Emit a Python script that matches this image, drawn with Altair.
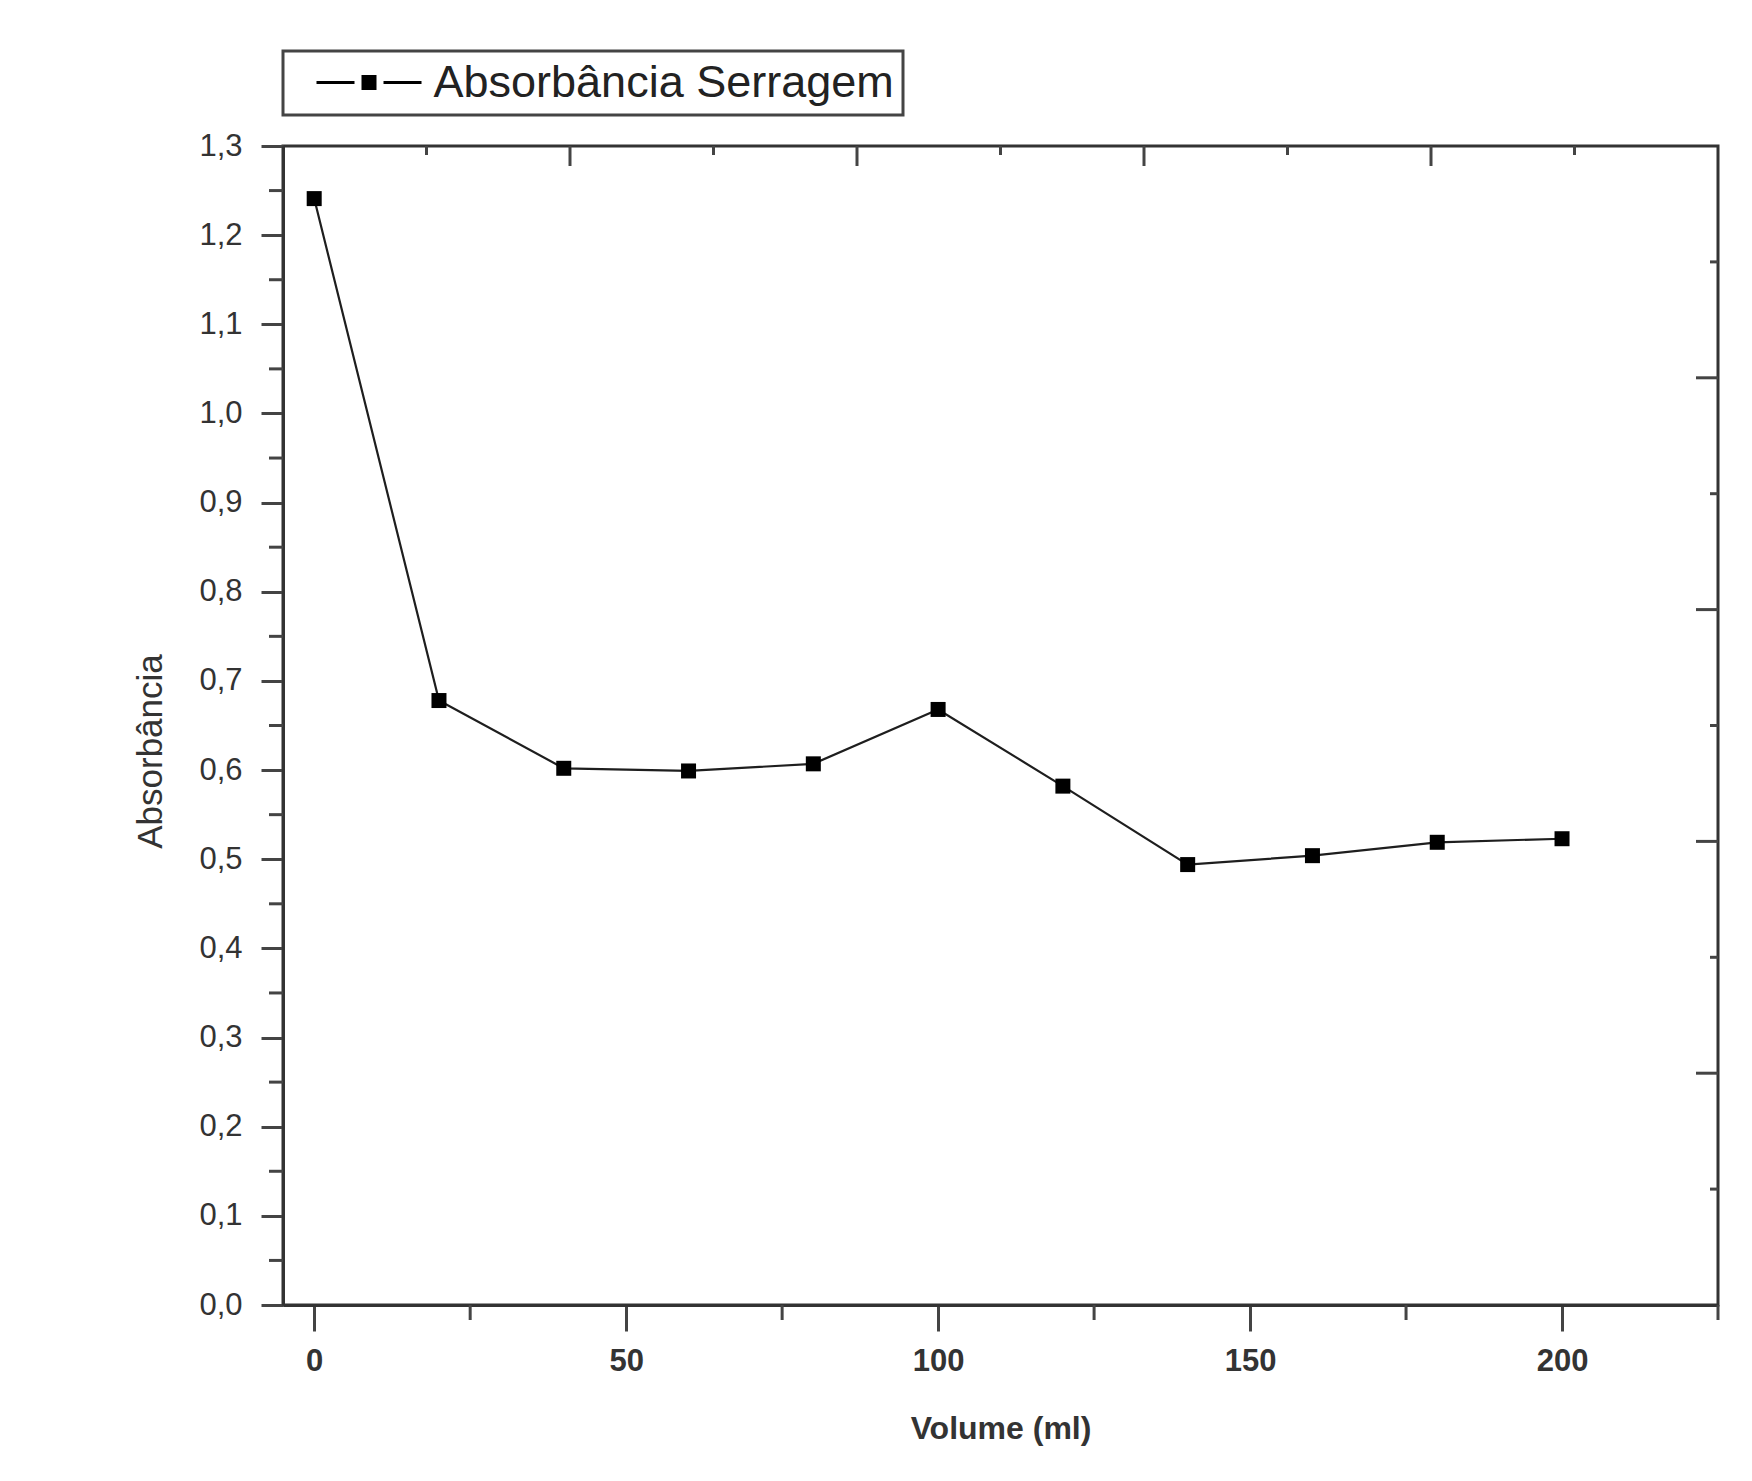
import altair as alt
import pandas as pd

# ---- data ----
volume = [0, 20, 40, 60, 80, 100, 120, 140, 160, 180, 200]
absorbancia = [1.241, 0.678, 0.602, 0.599, 0.607, 0.668, 0.582, 0.494, 0.504, 0.519, 0.523]
serie = "Absorbância Serragem"

x_major = [0, 50, 100, 150, 200]
x_minor = [25, 75, 125, 175, 225]
y_major = [0.0, 0.1, 0.2, 0.3, 0.4, 0.5, 0.6, 0.7, 0.8, 0.9, 1.0, 1.1, 1.2, 1.3]
y_minor = [0.05, 0.15, 0.25, 0.35, 0.45, 0.55, 0.65, 0.75, 0.85, 0.95, 1.05, 1.15, 1.25]
# opposite (unlabelled) axes of the original plot, on their own 0..10 scale
top_major = [2, 4, 6, 8]
top_minor = [1, 3, 5, 7, 9]
right_major = [2, 4, 6, 8]
right_minor = [1, 3, 5, 7, 9]

W, H = 1435, 1159
FONT = "Liberation Sans"
INK = "#333333"

df = pd.DataFrame({"volume": volume, "abs": absorbancia, "serie": [serie] * len(volume)})

xs = alt.Scale(domain=[-5, 225], nice=False, zero=False)
ys = alt.Scale(domain=[0, 1.3], nice=False, zero=False)

x_axis = alt.Axis(
    values=x_major, format="d", title="Volume (ml)", tickSize=26,
    labelFontSize=31, labelFontWeight="bold", labelPadding=15,
    titleFontSize=32, titleFontWeight="bold", titleY=123, titleBaseline="middle",
)
y_axis = alt.Axis(
    values=y_major, title="Absorbância", tickSize=22,
    labelExpr="replace(format(datum.value, '.1f'), '.', ',')",
    labelFontSize=31, labelFontWeight="normal", labelPadding=19,
    titleFontSize=35, titleFontWeight="normal", titleAngle=270,
    titleX=-133, titleY=605, titleAlign="center", titleBaseline="middle",
)

line = alt.Chart(df).mark_line(color="#1e1e1e", strokeWidth=2.2).encode(
    x=alt.X("volume:Q", scale=xs, axis=x_axis),
    y=alt.Y("abs:Q", scale=ys, axis=y_axis),
)

legend_symbol = (
    "M-3.5,-0.1H-0.967V0.1H-3.5Z "
    "M-0.5,-0.5H0.5V0.5H-0.5Z "
    "M0.967,-0.1H3.5V0.1H0.967Z"
)

pts = alt.Chart(df).mark_square(size=225, filled=True, opacity=1).encode(
    x=alt.X("volume:Q", scale=xs),
    y=alt.Y("abs:Q", scale=ys),
    color=alt.Color(
        "serie:N",
        scale=alt.Scale(domain=[serie], range=["#000000"]),
        legend=alt.Legend(
            title=None, orient="none", legendX=0, legendY=-95,
            symbolType=legend_symbol, symbolSize=900, symbolStrokeWidth=0,
            symbolOffset=54.5, labelOffset=42, labelFontSize=45, labelFont=FONT,
            labelColor="#222222", labelLimit=1000, padding=9,
            strokeColor="#444444", fillColor="white",
        ),
    ),
)

x_minor_ticks = alt.Chart(pd.DataFrame({"volume": x_minor})).mark_rule(
    color="#444444", strokeWidth=3
).encode(
    x=alt.X("volume:Q", scale=xs),
    y=alt.value(H), y2=alt.value(H + 15),
)
y_minor_ticks = alt.Chart(pd.DataFrame({"abs": y_minor})).mark_rule(
    color="#444444", strokeWidth=3
).encode(
    y=alt.Y("abs:Q", scale=ys),
    x=alt.value(0), x2=alt.value(-14),
)

main = alt.layer(line, pts, x_minor_ticks, y_minor_ticks)

ts = alt.Scale(domain=[0, 10], nice=False, zero=False)
top_maj = alt.Chart(pd.DataFrame({"t": top_major})).mark_rule(color="#444444", strokeWidth=3).encode(
    x=alt.X("t:Q", scale=ts, axis=None), y=alt.value(0), y2=alt.value(20))
top_min = alt.Chart(pd.DataFrame({"t": top_minor})).mark_rule(color="#444444", strokeWidth=3).encode(
    x=alt.X("t:Q", scale=ts, axis=None), y=alt.value(0), y2=alt.value(9))
top = alt.layer(top_maj, top_min)

rs = alt.Scale(domain=[0, 10], nice=False, zero=False)
right_maj = alt.Chart(pd.DataFrame({"r": right_major})).mark_rule(color="#444444", strokeWidth=3).encode(
    y=alt.Y("r:Q", scale=rs, axis=None), x=alt.value(W), x2=alt.value(W - 22))
right_min = alt.Chart(pd.DataFrame({"r": right_minor})).mark_rule(color="#444444", strokeWidth=3).encode(
    y=alt.Y("r:Q", scale=rs, axis=None), x=alt.value(W), x2=alt.value(W - 8))
right = alt.layer(right_maj, right_min)

chart = (
    alt.layer(main, top, right)
    .resolve_scale(x="independent", y="independent")
    .properties(
        width=W, height=H,
        autosize=alt.AutoSizeParams(type="none"),
        padding={"left": 275, "top": 138, "right": 26, "bottom": 160},
        background="white",
    )
    .configure_view(stroke=INK, strokeWidth=3)
    .configure_axis(
        domainColor=INK, domainWidth=3, tickColor="#444444", tickWidth=3,
        labelColor=INK, titleColor=INK, labelFont=FONT, titleFont=FONT, grid=False,
    )
    .configure_legend(strokeWidth=3)
)

chart.save("out.html", embed_options={"renderer": "svg", "actions": False})
